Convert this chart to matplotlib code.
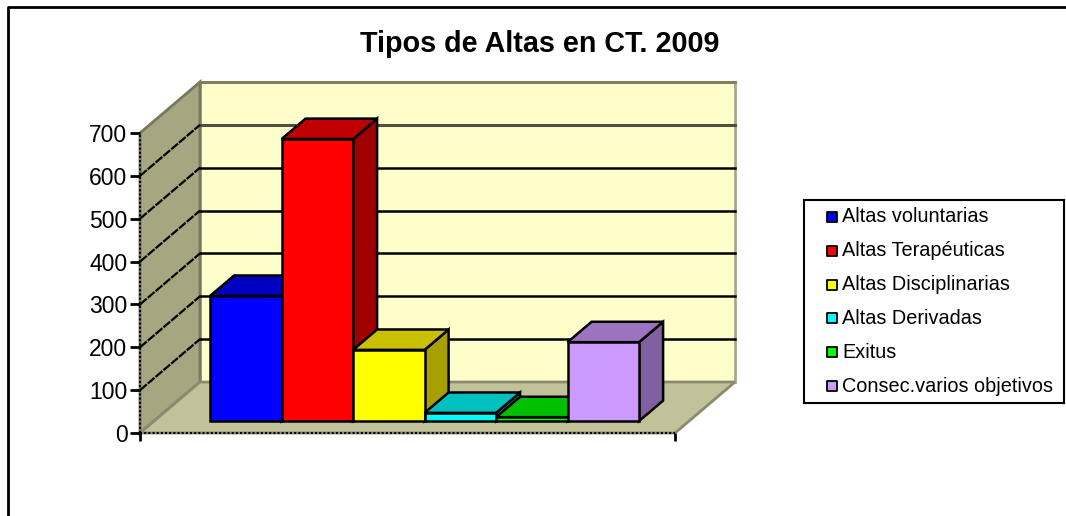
import matplotlib
matplotlib.use('Agg')
import matplotlib.pyplot as plt

plt.rcParams['font.family'] = ['Liberation Sans', 'DejaVu Sans']

# datos
categorias = ['Altas voluntarias', 'Altas Terapéuticas', 'Altas Disciplinarias',
              'Altas Derivadas', 'Exitus', 'Consec.varios objetivos']
valores = [292, 658, 166, 19, 9, 184]
ticks_y = [0, 100, 200, 300, 400, 500, 600, 700]
titulo = 'Tipos de Altas en CT. 2009'

frente = ['#0000FF', '#FF0000', '#FFFF00', '#00FFFF', '#00FF00', '#CC99FF']
arriba = ['#0000C0', '#C00000', '#C8C000', '#00C0C0', '#00C000', '#9C73C0']
lado = ['#0000A0', '#A00000', '#A8A000', '#009CA0', '#009C00', '#8060A0']

W, H = 1066, 516
PX_X = 71.5            # pixeles por categoria
PX_Y = 300 / 700       # pixeles por unidad
X0 = 196               # pixel de x=0 en el plano frontal
Y0 = 433               # pixel de y=0 en el plano frontal
DX = 60 / PX_X         # fondo de la caja, unidades de x
DY = 51 / PX_Y         # fondo de la caja, unidades de y
X_IZQ = (140 - X0) / PX_X
X_DER = (675 - X0) / PX_X
D1, D2 = 0.235, 0.635  # profundidad de las barras


def oblicua(x, v, d):
    return x + d * DX, v + d * DY


def cara(ax, puntos, color, borde='black', lw=1.8, z=2):
    xs = [oblicua(*p)[0] for p in puntos]
    ys = [oblicua(*p)[1] for p in puntos]
    ax.fill(xs, ys, facecolor=color, edgecolor=borde, linewidth=lw, joinstyle='miter', zorder=z)


fig = plt.figure(figsize=(W / 100, H / 100), dpi=100)
ax = fig.add_axes([0, 0, 1, 1], facecolor='none')
ax.set_xlim(-X0 / PX_X, (W - X0) / PX_X)
ax.set_ylim(-(H - Y0) / PX_Y, Y0 / PX_Y)

# paredes y suelo
tope = ticks_y[-1]
cara(ax, [(X_IZQ, 0, 1), (X_DER, 0, 1), (X_DER, tope, 1), (X_IZQ, tope, 1)], '#FFFFCC', '#A8A890', 2, 0.5)
cara(ax, [(X_IZQ, 0, 0), (X_IZQ, 0, 1), (X_IZQ, tope, 1), (X_IZQ, tope, 0)], '#A6A680', '#77775F', 2, 0.6)
cara(ax, [(X_IZQ, 0, 0), (X_DER, 0, 0), (X_DER, 0, 1), (X_IZQ, 0, 1)], '#C2C29A', '#8A8A70', 2, 0.6)

# rejilla
for t in ticks_y[1:]:
    color = {700: '#808060', 600: '#505040'}.get(t, 'black')
    xa, ya = oblicua(X_IZQ, t, 0)
    xb, yb = oblicua(X_IZQ, t, 1)
    xc, yc = oblicua(X_DER, t, 1)
    ax.plot([xb, xc], [yb, yc], color=color, lw=2.2 if t >= 600 else 1.8, zorder=1)
    if t < 700:
        ax.plot([xa, xb], [ya, yb], color='black', lw=1.6, ls=(0, (4, 0.6)), zorder=1)

# barras
for i, v in enumerate(valores):
    cara(ax, [(i + 1, 0, D1), (i + 1, 0, D2), (i + 1, v, D2), (i + 1, v, D1)], lado[i])
    cara(ax, [(i, v, D1), (i + 1, v, D1), (i + 1, v, D2), (i, v, D2)], arriba[i])
    cara(ax, [(i, 0, D1), (i + 1, 0, D1), (i + 1, v, D1), (i, v, D1)], frente[i])

# ejes
for s in ['top', 'right']:
    ax.spines[s].set_visible(False)
ax.spines['left'].set_position(('data', X_IZQ))
ax.spines['left'].set_bounds(0, tope)
ax.spines['bottom'].set_position(('data', 0))
ax.spines['bottom'].set_bounds(X_IZQ, X_DER)
for s in ['left', 'bottom']:
    ax.spines[s].set_linestyle((0, (1, 1)))
    ax.spines[s].set_linewidth(1.5)
    ax.spines[s].set_capstyle('butt')
ax.set_yticks(ticks_y)
ax.set_xticks([X_IZQ, X_DER])
ax.set_xticklabels([])
ax.tick_params(axis='y', length=7, width=2, labelsize=16.5, pad=2)
ax.tick_params(axis='x', length=6, width=2)

# marco y titulo
ax.plot([8 / W, 8 / W, 1], [0, 1 - 7 / H, 1 - 7 / H], color='black', lw=2,
        transform=ax.transAxes, clip_on=False)
ax.text(540 / W, 1 - 44 / H, titulo, transform=ax.transAxes, ha='center', va='center',
        fontsize=20.7, fontweight='bold')

# leyenda
ley = fig.add_axes([804 / W, 1 - 403 / H, (W - 2 - 804) / W, 203 / H])
ley.set_xlim(0, W - 2 - 804)
ley.set_ylim(len(categorias), 0)
ley.set_xticks([])
ley.set_yticks([])
for s in ley.spines.values():
    s.set_linewidth(1.5)
for i, c in enumerate(categorias):
    ley.scatter([28], [i + 0.5], marker='s', s=50, color=frente[i], edgecolor='black', linewidth=1.3)
    ley.text(38, i + 0.5, c, va='center', ha='left', fontsize=14.3)

plt.savefig('out.png', dpi=100)
